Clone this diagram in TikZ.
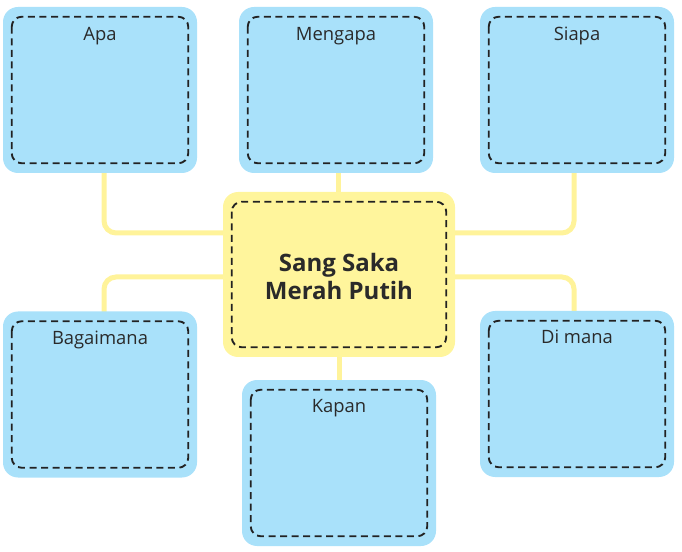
\documentclass[tikz,border=0pt]{standalone}
\usepackage{fontspec}
\setmainfont{Open Sans}
\usetikzlibrary{calc,backgrounds}
\definecolor{qblue}{HTML}{A9E1FA}
\definecolor{qyellow}{HTML}{FFF59C}
\definecolor{qline}{HTML}{FFF39A}
\definecolor{qdash}{HTML}{222222}
\definecolor{qtext}{HTML}{2A2A2A}
\begin{document}
\begin{tikzpicture}[x=0.75pt,y=-0.75pt,
  qbox/.style={draw=none, fill=qblue, rounded corners=11.25pt, minimum width=145.5pt, minimum height=124.5pt, inner sep=0pt},
  qcenter/.style={draw=none, fill=qyellow, rounded corners=11.25pt, minimum width=174pt, minimum height=123.75pt, inner sep=0pt},
  qlabel/.style={anchor=base, inner sep=0pt, text=qtext, font=\fontsize{13.8pt}{16pt}\selectfont},
  qtitle/.style={align=center, inner sep=0pt, text=qtext, font=\bfseries\fontsize{18pt}{20.5pt}\selectfont},
  qdashed/.style={draw=qdash, line width=1.4pt, dash pattern=on 5.25pt off 3.4pt, rounded corners=7.5pt},
  conn/.style={draw=qline, line width=3.75pt, rounded corners=9pt}
]
\useasboundingbox (0,0) rectangle (682,552);

\node[qbox] (apa) at (100,90) {};
\node[qbox] (mengapa) at (336,90) {};
\node[qbox] (siapa) at (577,90) {};
\node[qbox] (bagaimana) at (100,394.5) {};
\node[qbox] (kapan) at (339,463) {};
\node[qbox] (dimana) at (577,394) {};
\node[qcenter] (center) at (339,274.5) {};

\foreach \b in {apa,mengapa,siapa,bagaimana,kapan,dimana,center}{
  \draw[qdashed] ($(\b.north west)+(9,10)$) rectangle ($(\b.south east)+(-9,-10)$);
}

\node[qlabel] (apaT) at ($(apa.north)+(0,34)$) {Apa};
\node[qlabel] (mengapaT) at ($(mengapa.north)+(0,34)$) {Mengapa};
\node[qlabel] (siapaT) at ($(siapa.north)+(0,34)$) {Siapa};
\node[qlabel] (bagaimanaT) at ($(bagaimana.north)+(0,33)$) {Bagaimana};
\node[qlabel] (kapanT) at ($(kapan.north)+(0,33)$) {Kapan};
\node[qlabel] (dimanaT) at ($(dimana.north)+(0,33)$) {Di mana};
\node[qtitle] (centerT) at ($(center.center)+(0,2)$) {Sang Saka\\Merah Putih};

\begin{pgfonlayer}{background}
\draw[conn] ($(apa.south)+(4,-2)$) |- ($(center.west)+(2,-41.5)$);
\draw[conn] ($(siapa.south)+(-3,-2)$) |- ($(center.east)+(-2,-41.5)$);
\draw[conn] ($(bagaimana.north)+(4,2)$) |- ($(center.west)+(2,2.5)$);
\draw[conn] ($(dimana.north)+(-3,2)$) |- ($(center.east)+(-2,2.5)$);
\draw[conn] ($(center.north)+(-1,2)$) -- ($(mengapa.south -| center.north)+(-1,-2)$);
\draw[conn] ($(center.south)+(0,-2)$) -- ($(kapan.north)+(0,2)$);
\end{pgfonlayer}
\end{tikzpicture}
\end{document}
